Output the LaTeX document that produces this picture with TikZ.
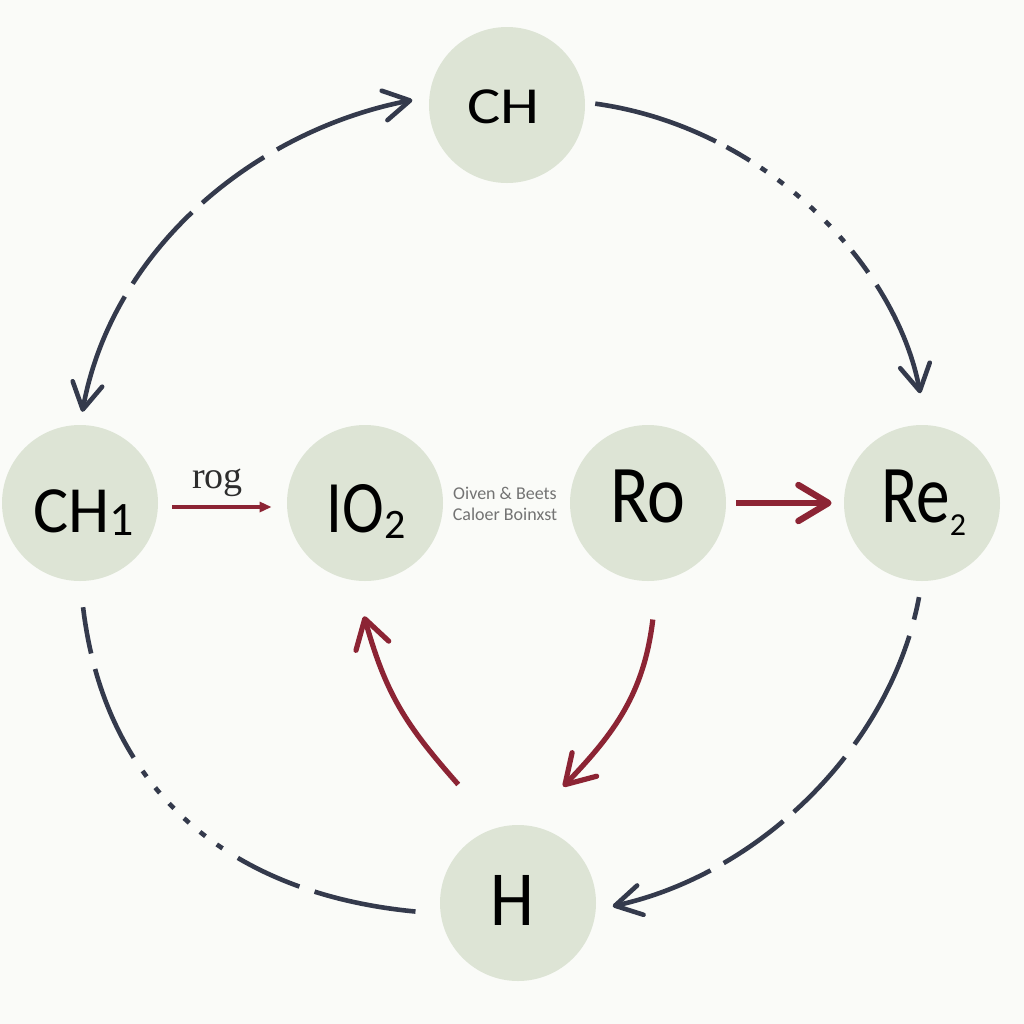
\documentclass[tikz,border=0pt]{standalone}
\usepackage{fontspec}
\setmainfont{Carlito}
\newfontfamily\rogfont{Liberation Serif}
\usetikzlibrary{arrows.meta}
\definecolor{bgcol}{RGB}{250,251,248}
\definecolor{diskcol}{RGB}{221,228,213}
\definecolor{slate}{RGB}{52,58,76}
\definecolor{wine}{RGB}{140,36,52}
\definecolor{midgray}{RGB}{115,115,115}
\tikzset{
  dbarb/.tip={Straight Barb[length=13pt,width=15pt,round]},
  rbarb/.tip={Straight Barb[length=14pt,width=17pt,round]}
}
\begin{document}
\begin{tikzpicture}[x=0.5pt,y=-0.5pt,
  disc/.style={circle,fill=diskcol,minimum size=78pt,inner sep=0pt},
  lbl/.style={inner sep=0pt,anchor=base,text=black},
  outer/.style={draw=slate,line width=2.3pt},
  redcurve/.style={draw=wine,line width=2.6pt,-{rbarb}}
]
\fill[bgcol] (0,0) rectangle (1024,1024);
\useasboundingbox (0,0) rectangle (1024,1024);

% discs
\node[disc] (CH)  at (507,105) {};
\node[disc] (CH1) at (80,503)  {};
\node[disc] (IO2) at (365,503) {};
\node[disc] (Ro)  at (648,503) {};
\node[disc] (Re2) at (922,503) {};
\node[disc] (H)   at (518,903) {};

% labels
\node[lbl] (tCH)  at (503.5,123) {\scalebox{1.2}[1]{\fontsize{26}{26}\selectfont CH}};
\node[lbl] (tCH1) at (84,532) {\fontsize{33}{33}\selectfont CH\raisebox{-1.5pt}{\fontsize{24}{24}\selectfont 1}};
\node[lbl] (tIO2) at (366,532) {\scalebox{0.85}[1]{\fontsize{37}{37}\selectfont IO}\raisebox{-3pt}{\fontsize{21}{21}\selectfont 2}};
\node[lbl] (tRo)  at (648,522) {\scalebox{0.875}[1]{\fontsize{41}{41}\selectfont Ro}};
\node[lbl] (tRe2) at (923.5,522) {\scalebox{0.82}[1]{\fontsize{41}{41}\selectfont Re}\raisebox{-6.5pt}{\fontsize{16}{16}\selectfont 2}};
\node[lbl] (tH)   at (512.5,925) {\scalebox{0.9}[1]{\fontsize{39}{39}\selectfont H}};

\node[inner sep=0pt,text=midgray,align=center,font=\fontsize{9}{10.5}\selectfont] (mid) at (505,504) {Oiven \& Beets\\Caloer Boinxst};
\node[lbl,text={rgb,255:red,45;green,45;blue,45}] (rog) at (217.5,488) {\rogfont\fontsize{19}{19}\selectfont rog};

% outer dashed connectors
\draw[outer,{dbarb}-{dbarb},shorten <=6.5pt,shorten >=8.5pt,
  dash pattern=on 59.5pt off 7.5pt on 46.5pt off 7pt on 38.5pt off 7.5pt on 200pt]
  (CH1.north) .. controls +(32,-175) and +(-175,34) .. (CH.174);

\draw[outer,-{dbarb},shorten <=5pt,shorten >=16pt,
  dash pattern=on 63.5pt off 6pt on 13.5pt off 6.5pt on 3.5pt off 7pt on 3.5pt off 7pt on 3.5pt off 7pt on 3.5pt off 7pt on 3.5pt off 7pt on 3.5pt off 6pt on 13.5pt off 7.5pt on 200pt]
  (CH.2) .. controls +(180,25) and +(-30,-160) .. (Re2.87);

\draw[outer,-{dbarb},shorten <=8pt,shorten >=8.5pt,
  dash pattern=on 11.5pt off 8.5pt on 61pt off 8pt on 37.5pt off 7pt on 36.5pt off 7.5pt on 200pt]
  (Re2.south) .. controls +(-31,165) and +(164,-36) .. (H.-5);

\draw[outer,shorten <=13pt,shorten >=12.5pt,
  dash pattern=on 23.5pt off 8pt on 48.5pt off 8pt on 3.5pt off 7pt on 3.5pt off 7pt on 3.5pt off 7pt on 3.5pt off 7pt on 3.5pt off 7pt on 3.5pt off 9pt on 34pt off 8pt on 200pt]
  (CH1.south) .. controls +(25,210) and +(-210,-20) .. (H.188);

% red connectors
\draw[draw=wine,line width=2pt,-{Triangle[length=6pt,width=5pt]},shorten <=7pt,shorten >=7.5pt]
  ([yshift=-2pt]CH1.east) -- ([yshift=-2pt]IO2.west);
\draw[draw=wine,line width=3.2pt,-{Straight Barb[length=15pt,width=18pt,round]},shorten <=5pt,shorten >=6pt]
  (Ro.east) -- (Re2.west);
\draw[redcurve,shorten <=28.8pt,shorten >=18.5pt]
  (H.106) .. controls +(-91,-103) and +(32,114) .. (IO2.-98);
\draw[redcurve,shorten <=19.5pt,shorten >=26.7pt]
  (Ro.-83.5) .. controls +(-13.7,112.5) and +(88.75,-92.4) .. (H.84);
\end{tikzpicture}
\end{document}
